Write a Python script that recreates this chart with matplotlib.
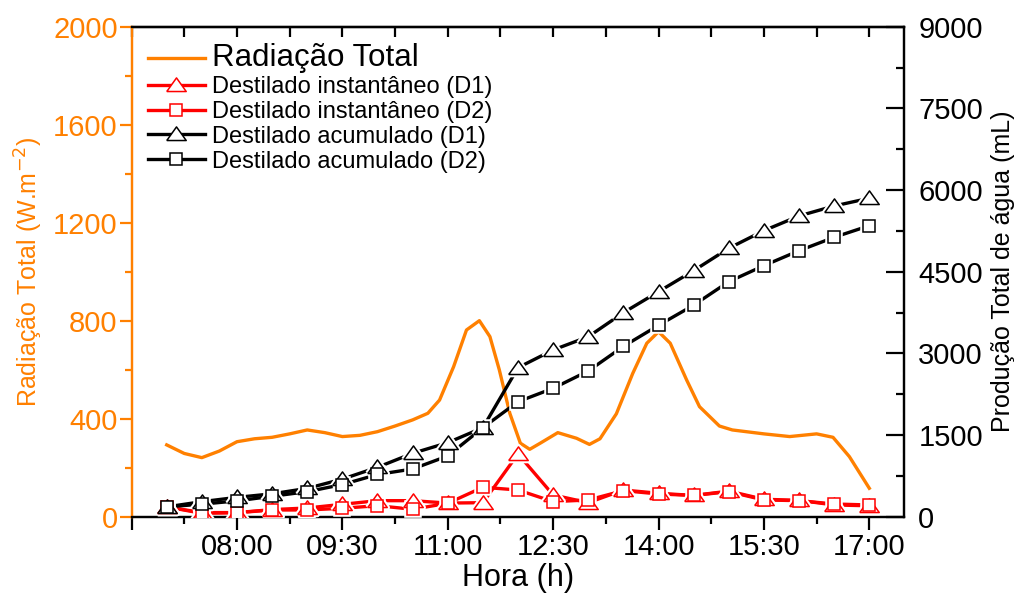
import matplotlib
matplotlib.use("Agg")
import matplotlib.pyplot as plt
from matplotlib.lines import Line2D
from matplotlib.ticker import MultipleLocator, FixedLocator

plt.rcParams['font.family'] = ['Liberation Sans', 'DejaVu Sans']

ORANGE = '#FF8000'
RED = '#FF0000'

# Radiação total medida ao longo do dia (W/m2)
rad_hora = ["07:00", "07:15", "07:30", "07:45", "08:00", "08:15", "08:30", "08:45",
            "09:00", "09:15", "09:30", "09:45", "10:00", "10:15", "10:30", "10:43",
            "10:53", "11:05", "11:16", "11:27", "11:36", "11:44", "11:53", "12:02",
            "12:10", "12:19", "12:34", "12:50", "13:01", "13:10", "13:24", "13:38",
            "13:50", "14:00", "14:10", "14:24", "14:35", "14:52", "15:03", "15:30",
            "15:52", "16:15", "16:29", "16:43", "17:00"]
radiacao = [293, 258, 241, 268, 306, 318, 324, 338,
            354, 343, 327, 332, 347, 370, 395, 422,
            476, 612, 762, 800, 735, 600, 422, 300,
            275, 300, 343, 320, 295, 318, 420, 585,
            708, 755, 708, 558, 449, 370, 354, 338,
            327, 338, 324, 245, 116]

# Destilado coletado a cada 30 min (mL)
hora = ["07:00", "07:30", "08:00", "08:30", "09:00", "09:30", "10:00", "10:30",
        "11:00", "11:30", "12:00", "12:30", "13:00", "13:30", "14:00", "14:30",
        "15:00", "15:30", "16:00", "16:30", "17:00"]
inst_d1 = [180, 75, 75, 130, 160, 227, 294, 294, 250, 257, 1152,
           399, 257, 490, 430, 390, 470, 320, 300, 215, 200]
inst_d2 = [180, 62, 73, 123, 123, 154, 202, 136, 246, 540, 490,
           276, 307, 478, 417, 390, 459, 307, 294, 233, 215]
acum_d1 = [180, 276, 355, 420, 520, 690, 907, 1164, 1359, 1635, 2737,
           3062, 3306, 3747, 4133, 4519, 4930, 5254, 5524, 5707, 5849]
acum_d2 = [180, 230, 290, 375, 459, 590, 775, 876, 1115, 1635, 2112,
           2358, 2676, 3128, 3515, 3885, 4317, 4611, 4886, 5132, 5345]

x_ticks = ["06:30", "08:00", "09:30", "11:00", "12:30", "14:00", "15:30", "17:00"]
x_labels = ["", "08:00", "09:30", "11:00", "12:30", "14:00", "15:30", "17:00"]


def to_hours(hhmm):
    h, m = hhmm.split(":")
    return int(h) + int(m) / 60.0


t_rad = [to_hours(h) for h in rad_hora]
t = [to_hours(h) for h in hora]
major_x = [to_hours(h) for h in x_ticks]
minor_x = [v + 0.75 for v in major_x]

# triangulo mais largo que alto, como no Origin
TRI = [(-1.0, -0.62), (1.0, -0.62), (0.0, 0.78), (-1.0, -0.62)]

fig = plt.figure(figsize=(10.2, 5.93), dpi=100)
ax = fig.add_axes([0.129, 0.1287, 0.7577, 0.8263])
ax2 = ax.twinx()

ax.plot(t_rad, radiacao, color=ORANGE, lw=2.4, solid_joinstyle='round', zorder=2)

series = [
    (inst_d1, RED, TRI, 14, "Destilado instantâneo (D1)"),
    (inst_d2, RED, 's', 9, "Destilado instantâneo (D2)"),
    (acum_d1, 'black', TRI, 14, "Destilado acumulado (D1)"),
    (acum_d2, 'black', 's', 9, "Destilado acumulado (D2)"),
]
handles = [Line2D([], [], color=ORANGE, lw=2.4, label="Radiação Total")]
for vals, col, mk, ms, lab in series:
    ax2.plot(t, vals, color=col, lw=2.4, zorder=2)
    # halo branco para abrir um espaço entre a linha e o marcador
    ax2.plot(t, vals, ls='none', marker=mk, ms=ms, mfc='white', mec='white',
             mew=4, zorder=3)
    ax2.plot(t, vals, ls='none', marker=mk, ms=ms, mfc='white', mec=col,
             mew=1.1, zorder=4)
    handles.append(Line2D([], [], color=col, lw=2.4, marker=mk, ms=ms,
                          mfc='white', mec=col, mew=1.1, label=lab))

# eixo x
ax.set_xlim(6.5, 17.5)
ax.xaxis.set_major_locator(FixedLocator(major_x))
ax.set_xticklabels(x_labels)
ax.xaxis.set_minor_locator(FixedLocator(minor_x))
ax.set_xlabel("Hora (h)", fontsize=22, labelpad=1)

# eixo esquerdo (radiação)
ax.set_ylim(0, 2000)
ax.yaxis.set_major_locator(MultipleLocator(400))
ax.yaxis.set_minor_locator(MultipleLocator(200))
ax.set_ylabel("Radiação Total (W.m$^{-2}$)", color=ORANGE, fontsize=18, labelpad=6)

# eixo direito (produção)
ax2.set_ylim(0, 9000)
ax2.yaxis.set_major_locator(MultipleLocator(1500))
ax2.yaxis.set_minor_locator(MultipleLocator(750))
ax2.set_ylabel("Produção Total de água (mL)", fontsize=18, labelpad=6)

for a in (ax, ax2):
    for s in a.spines.values():
        s.set_linewidth(1.6)
ax.spines['left'].set_color(ORANGE)
ax2.spines['left'].set_color(ORANGE)

ax.tick_params(axis='x', which='both', direction='out', top=False, width=1.6,
               labelsize=21, pad=3, colors='black')
ax.tick_params(axis='x', which='major', length=9)
ax.tick_params(axis='x', which='minor', length=5)
ax.tick_params(axis='y', which='both', direction='out', color=ORANGE,
               labelcolor=ORANGE, width=1.6, labelsize=21, pad=1)
ax.tick_params(axis='y', which='major', length=9)
ax.tick_params(axis='y', which='minor', length=5)
ax2.tick_params(axis='y', which='both', direction='in', width=1.6,
                labelsize=21, pad=10)
ax2.tick_params(axis='y', which='major', length=13)
ax2.tick_params(axis='y', which='minor', length=6)

# marcas do eixo superior apontam para dentro
top = ax.secondary_xaxis('top')
top.set_xticks(major_x)
top.set_xticks(minor_x, minor=True)
top.tick_params(axis='x', which='both', direction='in', length=7, width=1.6,
                labeltop=False)
top.spines['top'].set_linewidth(1.6)

leg = ax2.legend(handles=handles, loc='upper left', bbox_to_anchor=(0.0, 1.0),
                 frameon=False, fontsize=17, numpoints=1, handlelength=2.4,
                 handletextpad=0.3, labelspacing=0.12, borderaxespad=0.15,
                 borderpad=0.55)
leg.get_texts()[0].set_fontsize(22.5)

fig.savefig("out.png", dpi=100)
